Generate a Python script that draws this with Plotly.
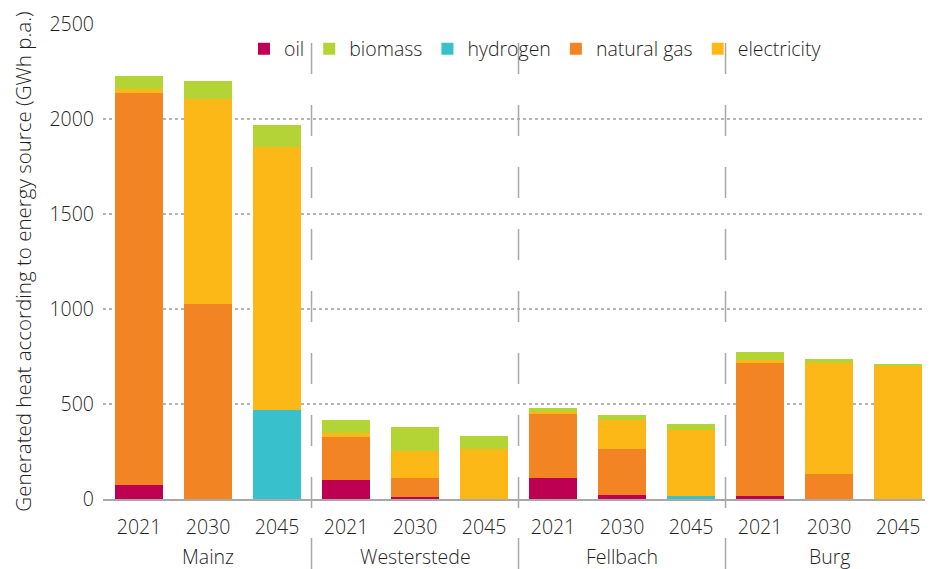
import plotly.graph_objects as go

# Heat supply by energy source per municipality and year (GWh p.a.)
cities = ["Mainz", "Westerstede", "Fellbach", "Burg"]
years = ["2021", "2030", "2045"]

oil = [72, 0, 0, 98, 9, 0, 109, 19, 0, 14, 0, 0]
hydrogen = [0, 0, 467, 0, 0, 0, 0, 0, 14, 0, 0, 0]
natural_gas = [2065, 1025, 0, 227, 100, 0, 337, 243, 0, 701, 130, 0]
electricity = [21, 1080, 1386, 21, 142, 262, 11, 153, 348, 16, 585, 701]
biomass = [70, 95, 115, 68, 127, 68, 21, 26, 31, 42, 21, 9]

tick_labels = [y for _ in cities for y in years]
x_pos = list(range(len(tick_labels)))

FONT = "Open Sans"
TEXT = "#1f1f1f"
GREY = "#a8a8a8"
WEIGHT = 300

# stacking order bottom -> top, with legend rank for the legend order
series = [
    ("oil", oil, "#BE0053", 1),
    ("hydrogen", hydrogen, "#38C0CC", 3),
    ("natural gas", natural_gas, "#F38423", 4),
    ("electricity", electricity, "#FCB817", 5),
    ("biomass", biomass, "#B4D334", 2),
]

fig = go.Figure()
for name, vals, color, rank in series:
    fig.add_trace(go.Bar(
        x=x_pos, y=vals, name=name, legendrank=rank,
        marker=dict(color=color, line=dict(width=0)),
        width=0.696,
    ))

# group separators: dashed in the plot, solid between city labels
shapes = []
for xs in (2.5, 5.5, 8.5):
    shapes.append(dict(type="line", xref="x", yref="paper", x0=xs, x1=xs,
                       y0=0.96, y1=-0.019,
                       line=dict(color=GREY, width=1.5, dash="31px,31px")))
    shapes.append(dict(type="line", xref="x", yref="paper", x0=xs, x1=xs,
                       y0=-0.082, y1=-0.16,
                       line=dict(color=GREY, width=1.5)))

annotations = []
for i, c in enumerate(cities):
    annotations.append(dict(x=3 * i + 1, y=-0.121, xref="x", yref="paper",
                            text=c, showarrow=False, yanchor="middle",
                            font=dict(family=FONT, size=19.5, color=TEXT,
                                      weight=WEIGHT)))

fig.update_layout(
    width=930, height=569,
    margin=dict(l=103, r=5, t=24, b=70),
    barmode="stack", bargap=0,
    paper_bgcolor="white", plot_bgcolor="white",
    font=dict(family=FONT, size=19.5, color=TEXT, weight=WEIGHT),
    shapes=shapes, annotations=annotations,
    legend=dict(orientation="h", x=0.1715, xanchor="left", y=0.947,
                yanchor="middle", bgcolor="rgba(0,0,0,0)",
                traceorder="normal",
                font=dict(family=FONT, size=19.5, color=TEXT, weight=WEIGHT)),
    xaxis=dict(range=[-0.522, 11.391], tickvals=x_pos, ticktext=tick_labels,
               showgrid=False, zeroline=False, showline=True,
               linecolor=GREY, linewidth=1.5, ticks="",
               ticklabelstandoff=10, fixedrange=True),
    yaxis=dict(range=[0, 2500], tickvals=[0, 500, 1000, 1500, 2000, 2500],
               showgrid=True, gridcolor="#b4b4b4", gridwidth=1.5,
               griddash="dot", zeroline=False, showline=False, ticks="",
               ticklabelstandoff=8,
               title=dict(text="Generated heat according to energy source (GWh p.a.)",
                          standoff=12, font=dict(size=20.5, weight=WEIGHT))),
)

fig.write_html("out.html")
